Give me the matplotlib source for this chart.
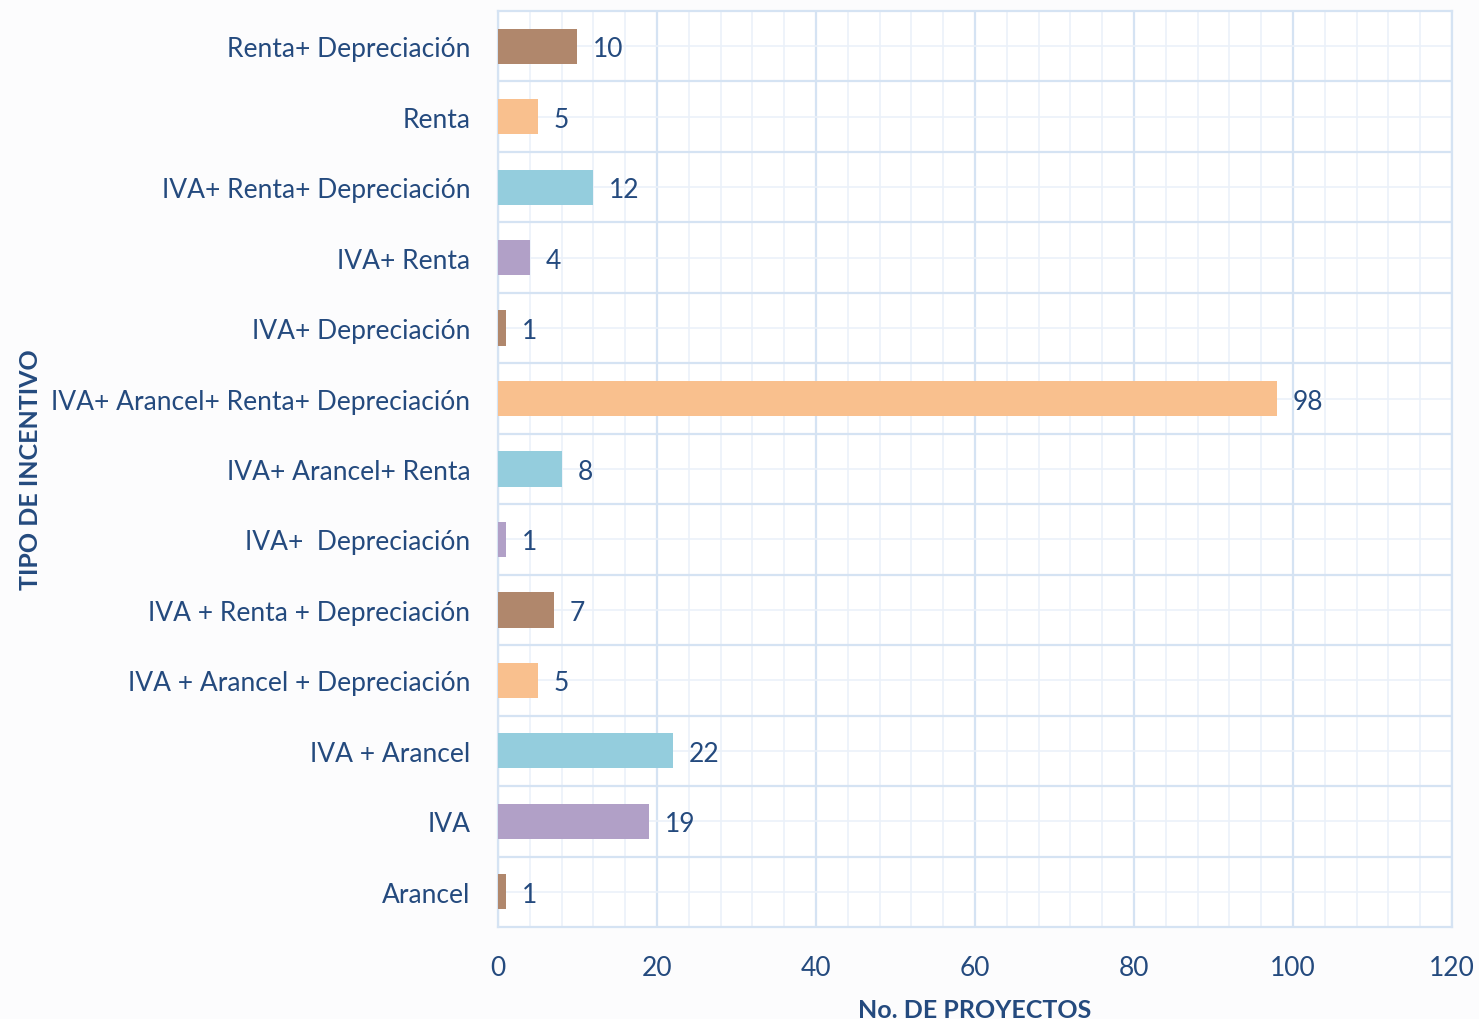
import matplotlib.pyplot as plt
from matplotlib.ticker import MultipleLocator

plt.rcParams['font.family'] = ['Lato', 'DejaVu Sans']

categorias = [
    "Arancel",
    "IVA",
    "IVA + Arancel",
    "IVA + Arancel + Depreciación",
    "IVA + Renta + Depreciación",
    "IVA+  Depreciación",
    "IVA+ Arancel+ Renta",
    "IVA+ Arancel+ Renta+ Depreciación",
    "IVA+ Depreciación",
    "IVA+ Renta",
    "IVA+ Renta+ Depreciación",
    "Renta",
    "Renta+ Depreciación",
]
proyectos = [1, 19, 22, 5, 7, 1, 8, 98, 1, 4, 12, 5, 10]
paleta = ["#B0876C", "#B1A0C7", "#94CDDD", "#F9C08E"]

texto = "#244A7E"
grid_major = "#D5E3F3"
grid_minor = "#EBF1F9"

fig = plt.figure(figsize=(14.79, 10.2), dpi=100)
fig.patch.set_facecolor("#FCFCFD")
ax = fig.add_axes([0.3367, 0.0902, 0.645, 0.898])
ax.set_facecolor("white")

y = list(range(len(categorias)))
colores = [paleta[i % 4] for i in y]
ax.barh(y, proyectos, height=0.5, color=colores, zorder=3)

for yi, v in zip(y, proyectos):
    ax.text(v + 2, yi, str(v), va="center_baseline", ha="left", fontsize=19, color=texto, zorder=4)

ax.set_xlim(0, 120)
ax.set_ylim(-0.5, len(categorias) - 0.5)
ax.xaxis.set_major_locator(MultipleLocator(20))
ax.xaxis.set_minor_locator(MultipleLocator(4))
ax.set_yticks(y)
ax.set_yticklabels(categorias)
ax.set_yticks([i + 0.5 for i in y[:-1]], minor=True)

ax.grid(which="major", axis="x", color=grid_major, lw=1.6, zorder=0)
ax.grid(which="minor", axis="x", color=grid_minor, lw=1.2, zorder=0)
ax.grid(which="minor", axis="y", color=grid_major, lw=1.6, zorder=0)
ax.grid(which="major", axis="y", color=grid_minor, lw=1.2, zorder=0)

ax.tick_params(axis="both", which="both", length=0, colors=texto, labelsize=19)
ax.tick_params(axis="x", pad=20)
ax.tick_params(axis="y", pad=20)
for s in ax.spines.values():
    s.set_color(grid_major)
    s.set_linewidth(1.6)

ax.set_xlabel("No. DE PROYECTOS", fontsize=18, fontweight="bold", color=texto)
ax.xaxis.set_label_coords(0.5, -0.077)
ax.set_ylabel("TIPO DE INCENTIVO", fontsize=18, fontweight="bold", color=texto)
ax.yaxis.set_label_coords(-0.478, 0.5)

fig.savefig("out.png", dpi=100, facecolor=fig.get_facecolor())
